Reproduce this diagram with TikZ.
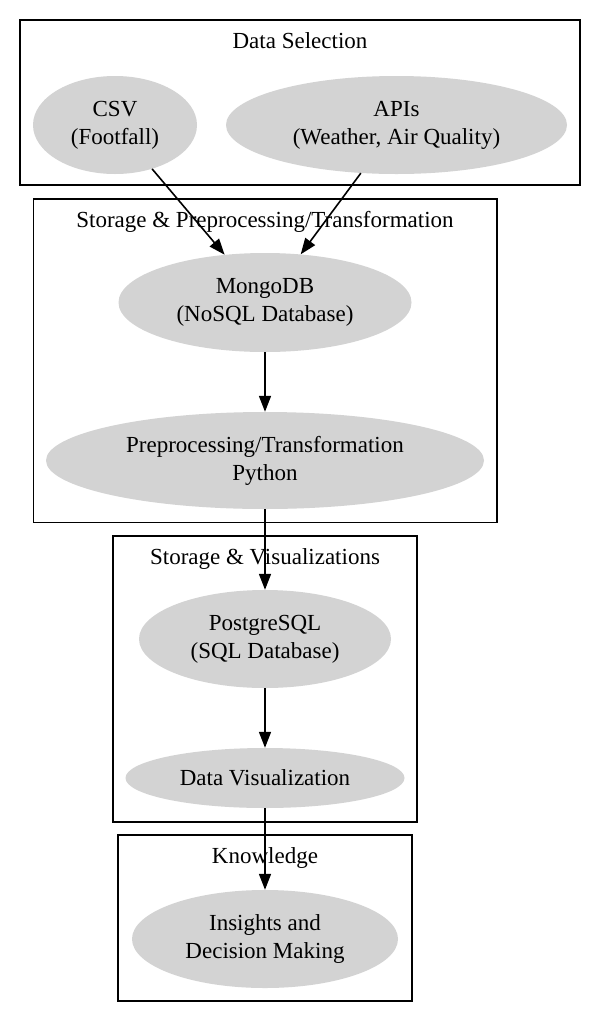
\documentclass[tikz,border=0pt]{standalone}
\usepackage{fontspec}
\setmainfont{Liberation Serif}
\usetikzlibrary{shapes.geometric,arrows.meta}
\definecolor{nodegrey}{HTML}{D3D3D3}
\tikzset{
  gvnode/.style={ellipse, fill=nodegrey, draw=none, inner sep=0pt, align=center,
    font=\fontsize{23}{28}\selectfont},
  cluster/.style={draw=black, line width=1.6pt},
  ctitle/.style={anchor=base, inner sep=0pt, font=\fontsize{23}{28}\selectfont},
  edge/.style={draw=black, line width=1.6pt, -{Triangle[length=16pt,width=12pt]}}
}
\begin{document}
\begin{tikzpicture}[x=1pt,y=-1pt]
\useasboundingbox[fill=white] (0,0) rectangle (600,1021);
% clusters
\draw[cluster] (20,20) rectangle (580,185);
\node[ctitle] (t1) at (300,48) {Data Selection};
\draw[cluster] (33.5,199) rectangle (497,522.5);
\node[ctitle] (t2) at (265,227) {Storage \& Preprocessing/Transformation};
\draw[cluster] (113,536) rectangle (417,822);
\node[ctitle] (t3) at (265,564) {Storage \& Visualizations};
\draw[cluster] (118,835) rectangle (412,1001);
\node[ctitle] (t4) at (265,863) {Knowledge};
% nodes
\node[gvnode, minimum width=164pt, minimum height=98pt] (csv) at (115,125) {CSV\\(Footfall)};
\node[gvnode, minimum width=341pt, minimum height=98pt] (apis) at (396.5,125) {APIs\\(Weather, Air Quality)};
\node[gvnode, minimum width=293pt, minimum height=99pt] (mongo) at (265,302.5) {MongoDB\\(NoSQL Database)};
\node[gvnode, minimum width=438pt, minimum height=97pt] (prep) at (265,460.5) {Preprocessing/Transformation\\Python};
\node[gvnode, minimum width=252pt, minimum height=98pt] (pg) at (265,639) {PostgreSQL\\(SQL Database)};
\node[gvnode, minimum width=279pt, minimum height=60pt] (vis) at (265,778) {Data Visualization};
\node[gvnode, minimum width=266pt, minimum height=98pt] (ins) at (265,939) {Insights and\\Decision Making};
% edges
\draw[edge] (csv) -- (mongo);
\draw[edge] (apis) -- (mongo);
\draw[edge] (mongo) -- (prep);
\draw[edge] (prep) -- (pg);
\draw[edge] (pg) -- (vis);
\draw[edge] (vis) -- (ins);
\end{tikzpicture}
\end{document}
